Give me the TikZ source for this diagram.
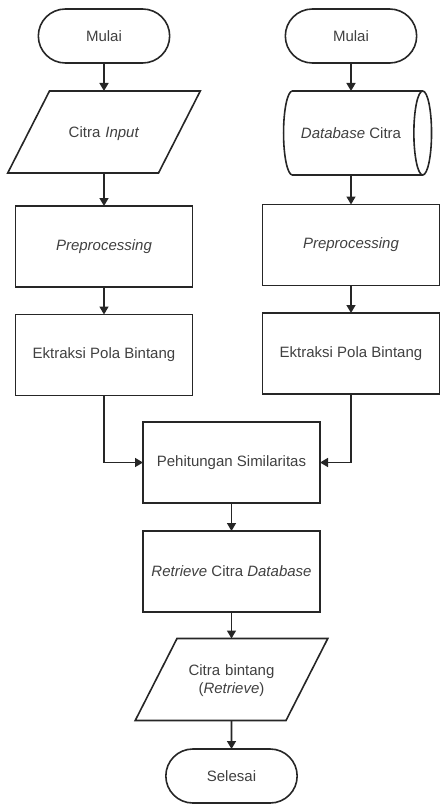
\documentclass[tikz,border=0pt]{standalone}
\usepackage{fontspec}
\setmainfont{Liberation Sans}
\usetikzlibrary{shapes.geometric,shapes.misc,arrows.meta}
\begin{document}
\begin{tikzpicture}[x=1pt,y=-1pt,line width=1.6pt,color=black!85,
    font=\fontsize{15}{18}\selectfont,
    every node/.style={outer sep=0pt,text=black!75},
    termsty/.style={rounded rectangle,draw,minimum width=138pt,minimum height=54pt},
    iosty/.style={trapezium,trapezium left angle=63,trapezium right angle=117,
      draw,inner sep=0pt,text width=109pt,align=center,text height=46pt,text depth=36pt},
    prosty/.style={rectangle,draw,minimum width=177pt,minimum height=81pt},
    dbsty/.style={cylinder,shape border rotate=0,shape aspect=1,draw,
      minimum width=84pt,minimum height=148pt},
    arrsty/.style={->,>={Triangle[length=8pt,width=9pt]}}]
    \useasboundingbox (0,0) rectangle (440,804);
    % kolom kiri
    \node[termsty] (mulai1) at (104,36) {Mulai};
    \node[iosty] (in1) at (104,132) {Citra \textit{Input}};
    \node[prosty] (pre1) at (104,246.5) {\textit{Preprocessing}};
    \node[prosty] (ekt1) at (104,355) {Ektraksi Pola Bintang};
    \draw[arrsty] (mulai1) -- (in1);
    \draw[arrsty] (in1) -- (pre1);
    \draw[arrsty] (pre1) -- (ekt1);
    % kolom kanan
    \node[termsty] (mulai2) at (351,36) {Mulai};
    \node[dbsty] (db) at (351,133) {\textit{Database} Citra};
    \node[prosty] (pre2) at (351,245) {\textit{Preprocessing}};
    \node[prosty] (ekt2) at (351,353.5) {Ektraksi Pola Bintang};
    \draw[arrsty] (mulai2) -- (db);
    \draw[arrsty] (db) -- (pre2);
    \draw[arrsty] (pre2) -- (ekt2);
    % kolom tengah
    \node[prosty] (hit) at (231.5,462.5) {Pehitungan Similaritas};
    \node[prosty] (ret) at (231.5,571.5) {\textit{Retrieve} Citra \textit{Database}};
    \node[iosty,text height=37pt,text depth=45pt] (out) at (231.5,679.5)
      {Citra bintang\\(\textit{Retrieve})};
    \node[termsty] (selesai) at (231.5,776) {Selesai};
    \draw[arrsty] (ekt1) |- (hit);
    \draw[arrsty] (ekt2) |- (hit);
    \draw[arrsty] (hit) -- (ret);
    \draw[arrsty] (ret) -- (out);
    \draw[arrsty] (out) -- (selesai);
\end{tikzpicture}
\end{document}
